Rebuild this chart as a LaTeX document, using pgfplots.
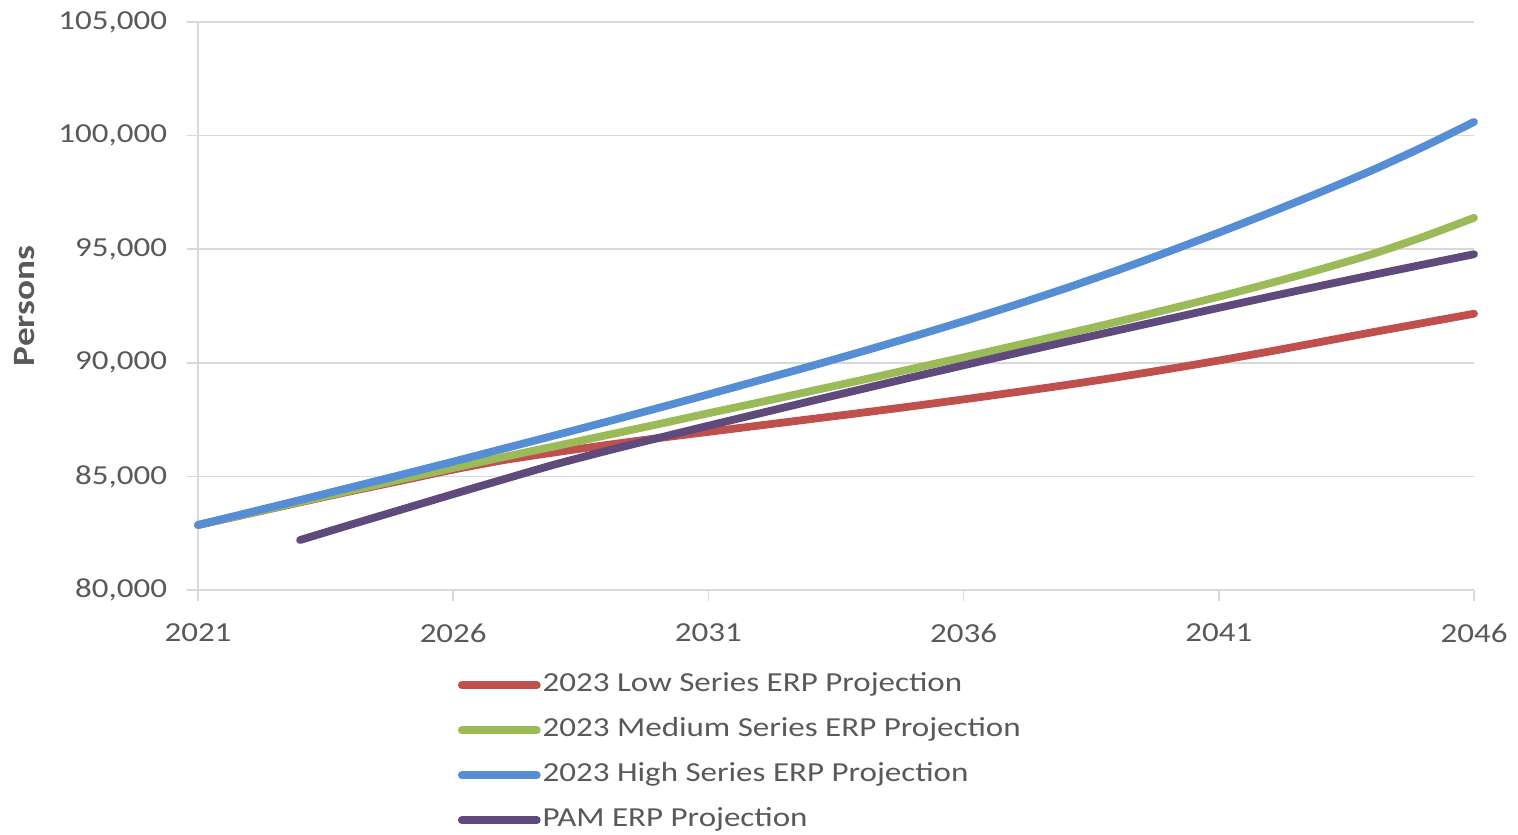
\documentclass[border=0pt]{standalone}
\usepackage{pgfplots}
\pgfplotsset{compat=1.18}
\usepackage{fontspec}
\setmainfont{Carlito}[FakeStretch=1.2]
\definecolor{lowc}{HTML}{C0504D}
\definecolor{medc}{HTML}{9BBB59}
\definecolor{highc}{HTML}{558ED5}
\definecolor{pamc}{HTML}{604A7B}
\definecolor{gridc}{HTML}{D9D9D9}
\definecolor{textc}{HTML}{595959}
\begin{document}
\begin{tikzpicture}
\useasboundingbox (0,0) rectangle (759pt,417pt);
\begin{axis}[
  at={(99pt,122pt)}, anchor=south west,
  scale only axis, width=638pt, height=284pt,
  xmin=2021, xmax=2046, ymin=80000, ymax=105000,
  xtick={2021,2026,2031,2036,2041,2046},
  ytick={80000,85000,90000,95000,100000,105000},
  axis x line*=bottom, axis y line*=left,
  axis line style={draw=gridc, line width=0.75pt},
  ymajorgrids, grid style={draw=gridc, line width=0.75pt},
  tick align=outside, major tick length=5.5pt,
  tick style={draw=gridc, line width=0.75pt},
  scaled y ticks=false,
  /pgf/number format/assume math mode=true,
  tick label style={font=\fontsize{13.75}{16}\selectfont, text=textc},
  x tick label style={/pgf/number format/.cd, fixed, precision=0, 1000 sep={}, /tikz/.cd, yshift=-8pt},
  y tick label style={/pgf/number format/.cd, fixed, precision=0, 1000 sep={,}, /tikz/.cd, xshift=-6.5pt},
  ylabel={Persons},
  ylabel style={font=\bfseries\fontsize{15.5}{18}\selectfont, text=textc,
    at={(axis description cs:-0.1356,0.5)}, anchor=center},
  clip=false,
  legend cell align=left,
  legend style={at={(axis description cs:0.2037,-0.1405)}, anchor=north west,
    draw=none, fill=none, inner sep=0pt, outer sep=0pt,
    font=\fontsize{13.75}{16}\selectfont, text=textc, row sep=7pt,
    nodes={inner sep=1pt, text height=10pt, text depth=3.5pt},
    /tikz/every even column/.append style={column sep=-1pt}},
  legend image code/.code={
    \path (0pt,0pt) -- (37.5pt,0pt);
    \draw[line width=3.6pt, line cap=round] (1.8pt,0pt) -- (35.7pt,0pt);
  },
  every axis plot/.append style={line width=3.9pt, line cap=round, line join=round, smooth, tension=0.4},
]
\addplot[lowc] coordinates {
(2021,82860) (2022,83360) (2023,83860) (2024,84350) (2025,84820) (2026,85300)
(2027,85720) (2028,86060) (2029,86380) (2030,86680) (2031,86960) (2032,87240)
(2033,87520) (2034,87800) (2035,88090) (2036,88390) (2037,88700) (2038,89020)
(2039,89360) (2040,89720) (2041,90100) (2042,90500) (2043,90920) (2044,91340)
(2045,91750) (2046,92160)};
\addlegendentry{2023 Low Series ERP Projection}
\addplot[medc] coordinates {
(2021,82860) (2022,83370) (2023,83880) (2024,84380) (2025,84880) (2026,85370)
(2027,85860) (2028,86330) (2029,86810) (2030,87290) (2031,87780) (2032,88260)
(2033,88750) (2034,89240) (2035,89740) (2036,90240) (2037,90750) (2038,91270)
(2039,91800) (2040,92350) (2041,92910) (2042,93500) (2043,94120) (2044,94780)
(2045,95540) (2046,96380)};
\addlegendentry{2023 Medium Series ERP Projection}
\addplot[highc] coordinates {
(2021,82860) (2022,83410) (2023,83960) (2024,84520) (2025,85080) (2026,85650)
(2027,86230) (2028,86810) (2029,87400) (2030,88000) (2031,88610) (2032,89230)
(2033,89850) (2034,90490) (2035,91150) (2036,91830) (2037,92540) (2038,93280)
(2039,94060) (2040,94880) (2041,95730) (2042,96610) (2043,97520) (2044,98470)
(2045,99500) (2046,100600)};
\addlegendentry{2023 High Series ERP Projection}
\addplot[pamc] coordinates {
(2023,82200) (2024,82880) (2025,83550) (2026,84220) (2027,84880) (2028,85530)
(2029,86120) (2030,86680) (2031,87230) (2032,87770) (2033,88310) (2034,88840)
(2035,89370) (2036,89890) (2037,90410) (2038,90920) (2039,91420) (2040,91920)
(2041,92420) (2042,92910) (2043,93390) (2044,93860) (2045,94320) (2046,94780)};
\addlegendentry{PAM ERP Projection}
\end{axis}
\end{tikzpicture}
\end{document}
